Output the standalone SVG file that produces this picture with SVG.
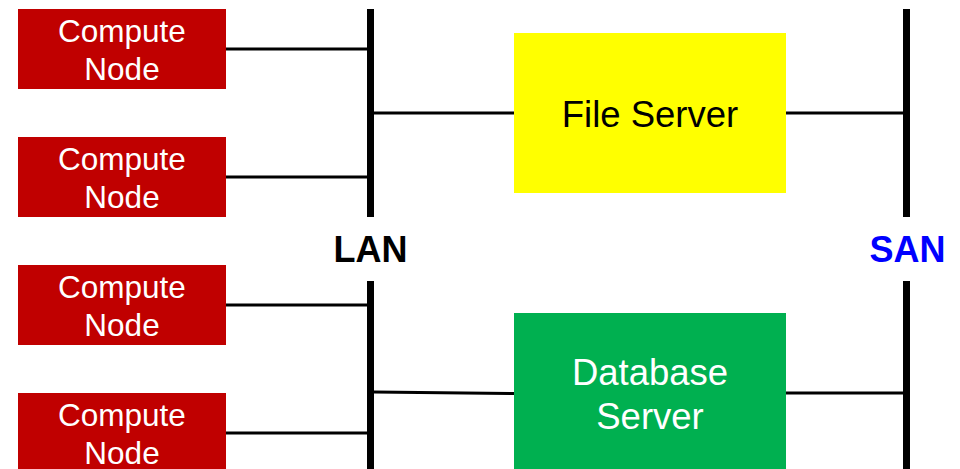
<svg xmlns="http://www.w3.org/2000/svg" width="960" height="469" viewBox="0 0 960 469">
  <style>
    .compute rect { fill: #C00000; }
    .compute text { fill: #FFFFFF; font-family: "Liberation Sans", Arial, sans-serif; font-size: 31.5px; text-anchor: middle; }
    .server text { font-family: "Liberation Sans", Arial, sans-serif; font-size: 36.5px; text-anchor: middle; }
    .bus { stroke: #000000; stroke-width: 7; }
    .link { stroke: #000000; stroke-width: 3; }
    .netlabel { font-family: "Liberation Sans", Arial, sans-serif; font-size: 36px; font-weight: bold; text-anchor: middle; }
  </style>
  <rect width="960" height="469" fill="#FFFFFF"/>

  <!-- network backbones and links -->
  <g id="connectors">
    <line class="bus" x1="370.5" y1="9" x2="370.5" y2="217"/>
    <line class="bus" x1="370.5" y1="281" x2="370.5" y2="469"/>
    <line class="bus" x1="906.5" y1="9" x2="906.5" y2="217"/>
    <line class="bus" x1="906.5" y1="281" x2="906.5" y2="469"/>
    <line class="link" x1="226" y1="49" x2="367" y2="49"/>
    <line class="link" x1="226" y1="177" x2="367" y2="177"/>
    <line class="link" x1="226" y1="305" x2="367" y2="305"/>
    <line class="link" x1="226" y1="433" x2="367" y2="433"/>
    <line class="link" x1="374" y1="113" x2="514" y2="113"/>
    <line class="link" x1="374" y1="392" x2="514" y2="393.5" stroke-width="2.5"/>
    <line class="link" x1="786" y1="113" x2="903" y2="113"/>
    <line class="link" x1="786" y1="393" x2="903" y2="393"/>
  </g>

  <g id="lan-label">
    <text class="netlabel" x="370.5" y="261.5" fill="#000000">LAN</text>
  </g>
  <g id="san-label">
    <text class="netlabel" x="907.5" y="261.5" fill="#0000FF">SAN</text>
  </g>

  <g id="compute-node-1" class="compute">
    <rect x="18" y="9" width="208" height="80"/>
    <text x="122" y="42">Compute</text>
    <text x="122" y="80">Node</text>
  </g>
  <g id="compute-node-2" class="compute">
    <rect x="18" y="137" width="208" height="80"/>
    <text x="122" y="170">Compute</text>
    <text x="122" y="208">Node</text>
  </g>
  <g id="compute-node-3" class="compute">
    <rect x="18" y="265" width="208" height="80"/>
    <text x="122" y="298">Compute</text>
    <text x="122" y="336">Node</text>
  </g>
  <g id="compute-node-4" class="compute">
    <rect x="18" y="393" width="208" height="80"/>
    <text x="122" y="426">Compute</text>
    <text x="122" y="464">Node</text>
  </g>

  <g id="file-server" class="server">
    <rect x="514" y="33" width="272" height="160" fill="#FFFF00"/>
    <text x="650" y="127" fill="#000000">File Server</text>
  </g>
  <g id="database-server" class="server">
    <rect x="514" y="313" width="272" height="160" fill="#00B050"/>
    <text x="650" y="385" fill="#FFFFFF">Database</text>
    <text x="650" y="429" fill="#FFFFFF">Server</text>
  </g>
</svg>
